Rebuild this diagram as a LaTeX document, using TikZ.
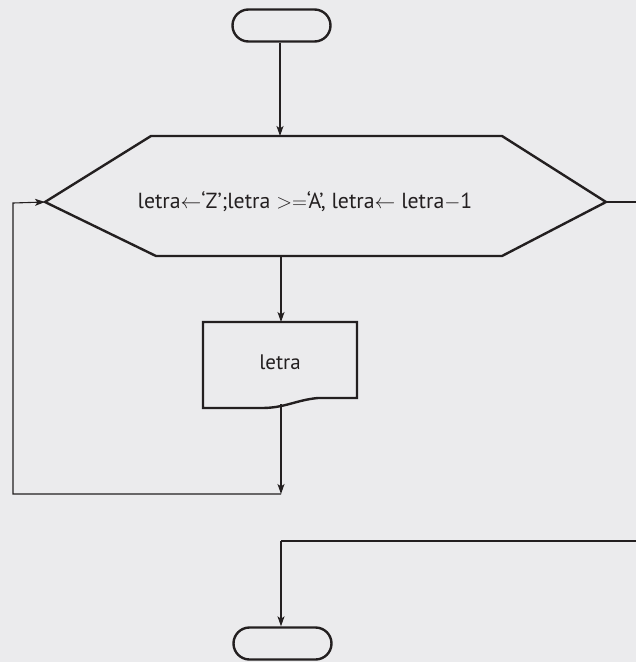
\documentclass[tikz,border=0pt]{standalone}
\usepackage{fontspec}
\setmainfont{PT Sans}
\usetikzlibrary{arrows.meta}
\definecolor{bg}{HTML}{EBEBED}
\definecolor{ink}{HTML}{231F20}
\begin{document}
\begin{tikzpicture}[x=1pt,y=-1pt,
  conn/.style={draw=ink,line width=1.1pt},
  arr/.style={conn,-{Stealth[length=10pt,width=7pt,inset=2.5pt]}},
  shapeline/.style={draw=ink,line width=2.4pt,line join=miter},
  term/.style={shapeline,rectangle,rounded corners=16pt,minimum width=98pt,minimum height=32pt,inner sep=0pt},
  txt/.style={font=\fontsize{21.8pt}{24pt}\selectfont,text=ink,inner sep=0pt}]
\fill[bg] (0,0) rectangle (636,662);
\useasboundingbox (0,0) rectangle (636,662);
% start terminal
\node[term] (start) at (281.5,25.5) {};
% hexagon loop
\coordinate (hL) at (45,202);
\coordinate (hTL) at (151,136);
\coordinate (hTR) at (502,136);
\coordinate (hR) at (606,202);
\coordinate (hBR) at (502,256);
\coordinate (hBL) at (156,256);
\coordinate (hIn) at (280,136);
\coordinate (hOut) at (281,256);
\draw[shapeline] (hL) -- (hTL) -- (hTR) -- (hR) -- (hBR) -- (hBL) -- cycle;
\node[txt] (hex) at (305,202) {letra$\leftarrow$‘Z’;letra $>=$‘A’, letra$\leftarrow$ letra$-$1};
% document
\coordinate (dTL) at (203,322);
\coordinate (dTR) at (357,322);
\coordinate (dIn) at (281,322);
\coordinate (dOut) at (281,404);
\draw[shapeline] (203,408) -- (dTL) -- (dTR) -- (357,398) -- (318,398)
  .. controls (296,400) and (285,408) .. (262,408) .. controls (240,408) and (220,408) .. (203,408) -- cycle;
\node[txt,font=\fontsize{21pt}{24pt}\selectfont] (doc) at (280,362) {letra};
% end terminal
\node[term] (end) at (282.5,643.5) {};
% connectors
\coordinate (J) at (281,494);
\coordinate (L1) at (13,494);
\coordinate (L2) at (13,203);
\coordinate (R1) at (640,202);
\coordinate (R2) at (640,541);
\coordinate (R3) at (281,541);
\draw[arr] (start.south -| hIn) -- (hIn);
\draw[arr] (hOut) -- (dIn);
\draw[arr] (dOut) -- (J);
\draw[arr] (J) -- (L1) -- (L2) -- (hL);
\draw[conn] (hR) -- (R1) -- (R2) -- (R3);
\draw[arr] (R3) -- (end.north -| R3);
\end{tikzpicture}
\end{document}
